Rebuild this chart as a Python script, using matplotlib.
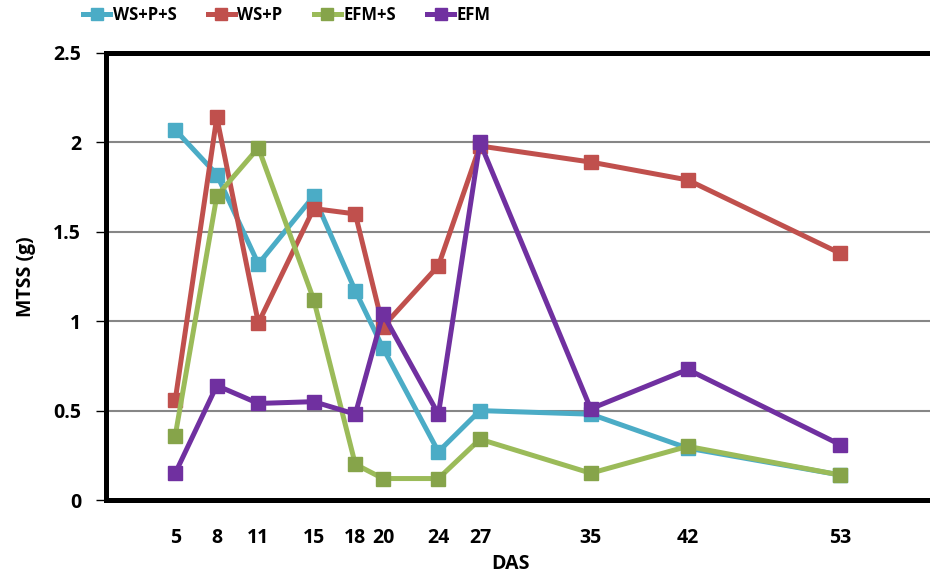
import matplotlib
matplotlib.use("Agg")
import matplotlib.pyplot as plt
from matplotlib import font_manager

das = [5, 8, 11, 15, 18, 20, 24, 27, 35, 42, 53]
ws_p_s = [2.07, 1.82, 1.32, 1.70, 1.17, 0.85, 0.27, 0.50, 0.48, 0.29, 0.14]
ws_p = [0.56, 2.14, 0.99, 1.63, 1.60, 0.97, 1.31, 1.98, 1.89, 1.79, 1.38]
efm_s = [0.36, 1.70, 1.97, 1.12, 0.20, 0.12, 0.12, 0.34, 0.15, 0.30, 0.14]
efm = [0.15, 0.64, 0.54, 0.55, 0.48, 1.04, 0.48, 2.00, 0.51, 0.73, 0.31]
series_names = ["WS+P+S", "WS+P", "EFM+S", "EFM"]
yticks = [0, 0.5, 1, 1.5, 2, 2.5]
ytick_labels = ["0", "0.5", "1", "1.5", "2", "2.5"]

plt.rcParams['font.family'] = ['Open Sans', 'DejaVu Sans']
plt.rcParams['font.weight'] = 'bold'

names = {f.name for f in font_manager.fontManager.ttflist}
leg_family = 'Open Sans'
leg_stretch = 'normal'
for cand in ['Liberation Sans Narrow', 'DejaVu Sans Condensed']:
    if cand in names:
        leg_family = cand
        break

W, H = 930, 584
fig = plt.figure(figsize=(W / 100, H / 100), dpi=100)
ax = fig.add_axes([106 / W, (H - 500) / H, (937 - 106) / W, (500 - 53) / H])

styles = [
    (ws_p_s, "#4BACC6", "#4BACC6"),
    (ws_p, "#C0504D", "#C0504D"),
    (efm_s, "#9BBB59", "#86A44A"),
    (efm, "#7030A0", "#7030A0"),
]
for (vals, lc, mc), name in zip(styles, series_names):
    ax.plot(das, vals, color=lc, lw=3.6, marker='s', ms=10,
            markerfacecolor=mc, markeredgecolor=mc, label=name, zorder=3)

ax.set_xlim(0, 60)
ax.set_ylim(0, 2.5)
ax.set_yticks(yticks)
ax.set_yticklabels(ytick_labels)
ax.set_xticks(das)
ax.set_xticklabels([str(d) for d in das])
ax.grid(axis='y', color='#868686', lw=1.5, zorder=1)
ax.tick_params(axis='y', length=7, width=1, pad=11, labelsize=14, direction='out')
ax.tick_params(axis='x', length=0, pad=20, labelsize=14)
for t in ax.get_xticklabels() + ax.get_yticklabels():
    t.set_fontweight('bold')

for s in ['left', 'top', 'bottom']:
    ax.spines[s].set_linewidth(3.6)
    ax.spines[s].set_color('black')
ax.spines['right'].set_visible(False)

ax.set_ylabel("MTSS (g)", fontsize=14, fontweight='bold', labelpad=12)
ax.set_xlabel("DAS", fontsize=14, fontweight='bold', labelpad=4)
ax.xaxis.set_label_coords((510 - 106) / (937 - 106), -0.12)

leg_size = 14 if leg_family != 'Open Sans' else 12
leg = fig.legend(loc='center', bbox_to_anchor=(287 / W, 1 - 15 / H), ncol=4,
                 frameon=False, handlelength=1.6,
                 prop={'family': [leg_family, 'Open Sans'],
                       'weight': 'bold', 'size': leg_size},
                 handletextpad=0.15, columnspacing=1.9, markerscale=0.8)

fig.savefig("out.png", dpi=100)
